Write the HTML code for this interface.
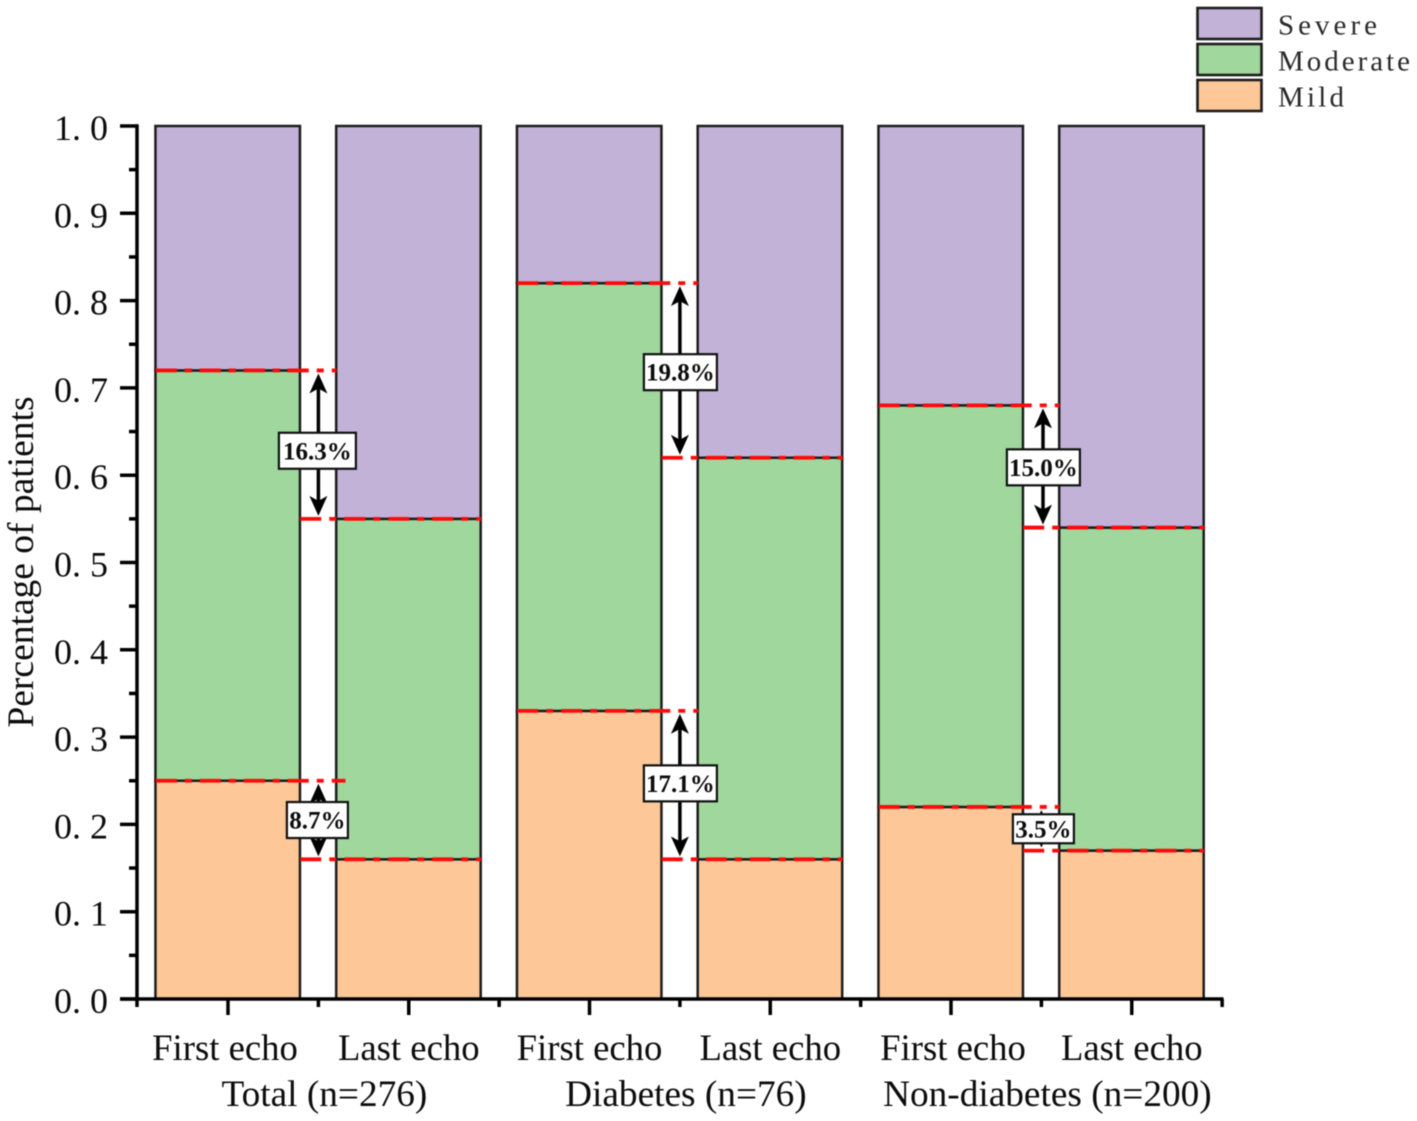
<!DOCTYPE html>
<html lang="en">
<head>
<meta charset="utf-8">
<title>Percentage of patients by severity</title>
<style>
html,body{margin:0;padding:0;background:#fff;width:1417px;height:1121px;overflow:hidden}
svg{display:block;position:absolute;left:0;top:0;filter:blur(.4px)}
text{font-family:"Liberation Serif",serif;fill:#0c0c0c}
</style>
</head>
<body>
<svg id="chart" width="1417" height="1121" viewBox="0 0 1417 1121" xmlns="http://www.w3.org/2000/svg"></svg>
<script>
const barLabels = ['First echo','Last echo','First echo','Last echo','First echo','Last echo'];
const groupLabels = ['Total (n=276)','Diabetes (n=76)','Non-diabetes (n=200)'];
const mild = [0.25,0.16,0.33,0.16,0.22,0.17];
const moderate = [0.47,0.39,0.49,0.46,0.46,0.37];
const severe = [0.28,0.45,0.18,0.38,0.32,0.46];
const seriesNames = ['Mild','Moderate','Severe'];
const yTickValues = [0,0.1,0.2,0.3,0.4,0.5,0.6,0.7,0.8,0.9,1.0];
const yTickLabels = ['0. 0','0. 1','0. 2','0. 3','0. 4','0. 5','0. 6','0. 7','0. 8','0. 9','1. 0'];
const yMinorValues = [0.05,0.15,0.25,0.35,0.45,0.55,0.65,0.75,0.85,0.95];
const annotationFirstBar = [0,0,2,2,4,4];
const annotationBoundary = [1,0,1,0,1,0];
const annotationLabels = ['16.3%','8.7%','19.8%','17.1%','15.0%','3.5%'];
const annotationLabelValues = [0.628,0.205,0.718,0.247,0.609,0.195];

const svg = document.getElementById('chart');
const NS = 'http://www.w3.org/2000/svg';
const colors = ['#fdc797','#9fd79d','#c2b2d8'];
const series = [mild, moderate, severe];
const stroke = '#1c1c1c';
const yScale = v => 999 - v * 873;
const xScale = i => 228 + i * 180.75;
const barW = 144.5;

function mk(tag, attrs, text) {
  const e = document.createElementNS(NS, tag);
  for (const k in attrs) e.setAttribute(k, attrs[k]);
  if (text !== undefined) e.textContent = text;
  svg.appendChild(e);
  return e;
}
function cumulative(bar, level) {
  let s = 0;
  for (let l = 0; l <= level; l++) s += series[l][bar];
  return s;
}

/* stacked bars */
barLabels.forEach((lab, i) => {
  let base = 0;
  series.forEach((vals, l) => {
    const top = base + vals[i];
    const r = mk('rect', {x: xScale(i) - barW / 2 - 0.3, y: yScale(top), width: barW, height: yScale(base) - yScale(top), fill: colors[l], stroke: stroke, 'stroke-width': 2.5});
    
    
    base = top;
  });
});

/* y axis */
const yAxis = mk('line', {x1: 137, x2: 137, y1: yScale(1) - 1.7, y2: yScale(0) + 8, stroke: '#000', 'stroke-width': 3.5});


yTickValues.forEach((v, i) => {
  const t = mk('line', {x1: 120, x2: 137, y1: yScale(v), y2: yScale(v), stroke: '#000', 'stroke-width': 3.5});
  
  
  const lab = mk('text', {x: 108, y: yScale(v) + 14, 'text-anchor': 'end', 'font-size': 36, 'xml:space': 'preserve'}, yTickLabels[i]);
  
  
});
yMinorValues.forEach(v => {
  const t = mk('line', {x1: 129, x2: 137, y1: yScale(v), y2: yScale(v), stroke: '#000', 'stroke-width': 3.5});
  
  
});
const yTitle = mk('text', {transform: 'translate(33,562) rotate(-90)', 'text-anchor': 'middle', 'font-size': 37.5}, 'Percentage of patients');



/* x axis */
const xAxis = mk('line', {x1: 120, x2: 1223.5, y1: yScale(0), y2: yScale(0), stroke: '#000', 'stroke-width': 3.5});


barLabels.forEach((lab, i) => {
  const t = mk('line', {x1: xScale(i), x2: xScale(i), y1: 999, y2: 1015, stroke: '#000', 'stroke-width': 3.5});
  
  
  const m = mk('line', {x1: xScale(i) + 90.4, x2: xScale(i) + 90.4, y1: 999, y2: 1007, stroke: '#000', 'stroke-width': 3.5});
  
  
  const txt = mk('text', {x: xScale(i) + (i === 0 ? -3 : i === 4 ? 2 : 0), y: 1060, 'text-anchor': 'middle', 'font-size': 36.7}, lab);
  
  
});
groupLabels.forEach((lab, g) => {
  const txt = mk('text', {x: xScale(g * 2) + 90.4 + 6, y: 1106, 'text-anchor': 'middle', 'font-size': 37.3}, lab);
  
  
});

/* annotations */
function dashLine(x1, x2, y) {
  const d = mk('line', {x1: x1, x2: x2, y1: y, y2: y, stroke: '#ff0a0a', 'stroke-width': 3.8, 'stroke-dasharray': '21 8 7 8'});
  
  
}
function arrowHead(x, tip, dir) {
  const p = [[x, tip], [x + 9, tip + dir * 20], [x, tip + dir * 15], [x - 9, tip + dir * 20]].map(a => a.join(',')).join(' ');
  const h = mk('polygon', {points: p, fill: '#000'});
  
  
}
annotationLabels.forEach((label, a) => {
  const left = annotationFirstBar[a];
  const right = left + 1;
  const level = annotationBoundary[a];
  const yL = yScale(cumulative(left, level));
  const yR = yScale(cumulative(right, level));
  const nudge = left === 4 ? 1.6 : 0;
  const cx = xScale(left) + 90.4 + (label === '3.5%' ? 0 : nudge);
  const lx1 = xScale(left) - barW / 2;
  const lx2 = xScale(right) - barW / 2 + (label === '8.7%' ? 9 : 0);
  const rx1 = xScale(left) + barW / 2;
  const rx2 = xScale(right) + barW / 2;
  dashLine(lx1, lx2, yL);
  dashLine(rx1, rx2, yR);
  const top = Math.min(yL, yR) + 3;
  const bottom = Math.max(yL, yR) - 3;
  const shaft = mk('line', {x1: cx, x2: cx, y1: top + 10, y2: bottom - 10, stroke: '#000', 'stroke-width': 3.5});
  
  
  arrowHead(cx, top, 1);
  arrowHead(cx, bottom, -1);
  const cy = yScale(annotationLabelValues[a]);
  const w = label === '16.3%' ? 77 : label.length > 4 ? 73 : 61;
  const h = bottom - top < 60 ? 29 : 36;
  const bx = xScale(left) + 90.4 + (left === 0 ? -1 : left === 2 ? 0.5 : 2);
  const box = mk('rect', {x: bx - w / 2, y: cy - h / 2, width: w, height: h, fill: '#fff', stroke: '#111', 'stroke-width': 2.2});
  
  
  const t = mk('text', {x: bx, y: cy + 8.5, 'text-anchor': 'middle', 'font-size': 25, 'font-weight': 'bold'}, label);
  
  
});

/* legend */
[2, 1, 0].forEach((l, row) => {
  const s = mk('rect', {x: 1197.5, y: 8 + row * 36, width: 64, height: 31, fill: colors[l], stroke: stroke, 'stroke-width': 2.6});
  
  
  const t = mk('text', {x: 1278, y: 34.5 + row * 36, 'font-size': 29, textLength: seriesNames[l].length * 16.5, lengthAdjust: 'spacing', style: 'fill:#2a2a2a'}, seriesNames[l]);
  
  
});
</script>
</body>
</html>
